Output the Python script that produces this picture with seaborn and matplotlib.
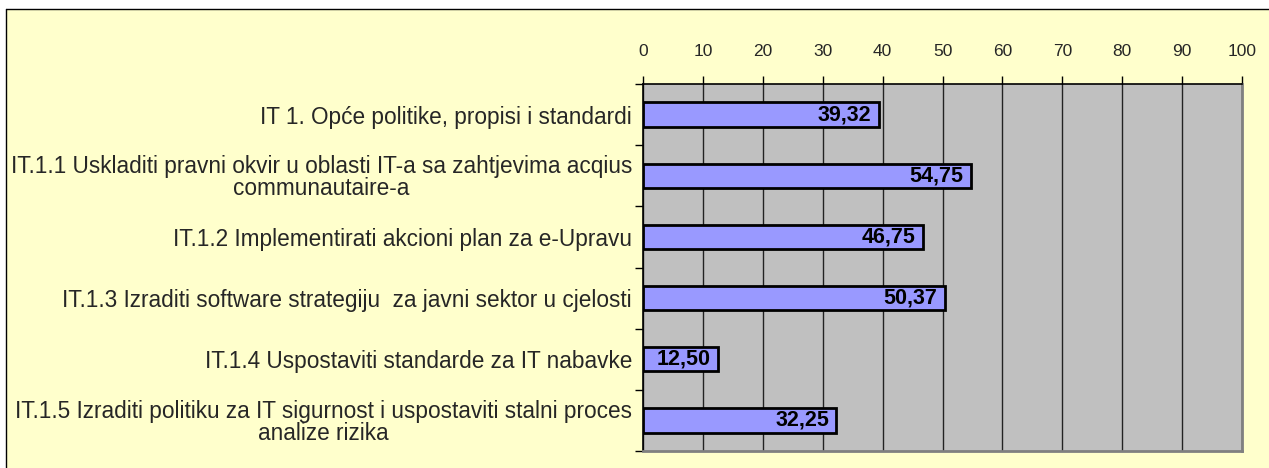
import matplotlib
matplotlib.use("Agg")
import matplotlib.pyplot as plt
import matplotlib.patches as mpatches
from matplotlib.lines import Line2D
from matplotlib.ticker import FixedLocator
import seaborn as sns
import pandas as pd

categories = [
    "IT 1. Opće politike, propisi i standardi",
    "IT.1.1 Uskladiti pravni okvir u oblasti IT-a sa zahtjevima acqius\ncommunautaire-a",
    "IT.1.2 Implementirati akcioni plan za e-Upravu",
    "IT.1.3 Izraditi software strategiju  za javni sektor u cjelosti",
    "IT.1.4 Uspostaviti standarde za IT nabavke",
    "IT.1.5 Izraditi politiku za IT sigurnost i uspostaviti stalni proces\nanalize rizika",
]
values = [39.32, 54.75, 46.75, 50.37, 12.50, 32.25]
value_labels = ["39,32", "54,75", "46,75", "50,37", "12,50", "32,25"]
x_ticks = [0, 10, 20, 30, 40, 50, 60, 70, 80, 90, 100]

sns.set_style("white")
plt.rcParams["font.family"] = ["Liberation Sans", "DejaVu Sans"]

W, H = 1269, 468
fig = plt.figure(figsize=(W / 100, H / 100), dpi=100, facecolor="white")

# pale yellow chart area, framed by thin black lines on the top and left
x0, y0 = 5.5 / W, 1 - 8.5 / H
fig.patches.append(mpatches.Rectangle(
    (x0, 0), 1 - x0, y0, transform=fig.transFigure,
    facecolor="#FFFFCC", edgecolor="none", zorder=-10))
fig.lines.append(Line2D([x0, x0], [0, y0], transform=fig.transFigure,
                        color="black", linewidth=1.0, zorder=-9))
fig.lines.append(Line2D([x0, 1], [y0, y0], transform=fig.transFigure,
                        color="black", linewidth=1.0, zorder=-9))

ax = fig.add_axes([643 / W, 1 - 451 / H, (1242 - 643) / W, (451 - 84) / H])
ax.set_facecolor("#C0C0C0")

df = pd.DataFrame({"category": categories, "value": values})
sns.barplot(data=df, x="value", y="category", orient="h", color="#9999FF",
            saturation=1, edgecolor="black", linewidth=2, width=0.4, ax=ax,
            zorder=3)

for i, (v, lab) in enumerate(zip(values, value_labels)):
    ax.text(v - 1.2, i, lab, ha="right", va="center", fontsize=15.5,
            fontweight="bold", color="black", zorder=4)

ax.set_xlim(0, 100)
ax.set_ylim(5.5, -0.5)
ax.set_xticks(x_ticks)
ax.xaxis.tick_top()
ax.xaxis.set_label_position("top")
ax.tick_params(axis="x", which="major", top=True, bottom=False, length=6,
               width=1, pad=12, labelsize=12.5, color="black")
ax.grid(axis="x", color="#222222", linewidth=1, zorder=1)
ax.set_axisbelow(True)

ax.set_yticks(range(len(categories)))
ax.set_yticklabels(categories, multialignment="center", linespacing=0.95)
ax.yaxis.set_minor_locator(FixedLocator([i - 0.5 for i in range(len(categories) + 1)]))
ax.tick_params(axis="y", which="major", length=0, pad=8, labelsize=16.3)
ax.tick_params(axis="y", which="minor", left=True, length=6, width=1, color="black")

ax.set_xlabel("")
ax.set_ylabel("")

for side in ["top", "left"]:
    ax.spines[side].set_color("black")
    ax.spines[side].set_linewidth(1.2)
for side in ["right", "bottom"]:
    ax.spines[side].set_color("#808080")
    ax.spines[side].set_linewidth(2)
    ax.spines[side].set_visible(True)

fig.savefig("out.png", dpi=100, facecolor=fig.get_facecolor())
